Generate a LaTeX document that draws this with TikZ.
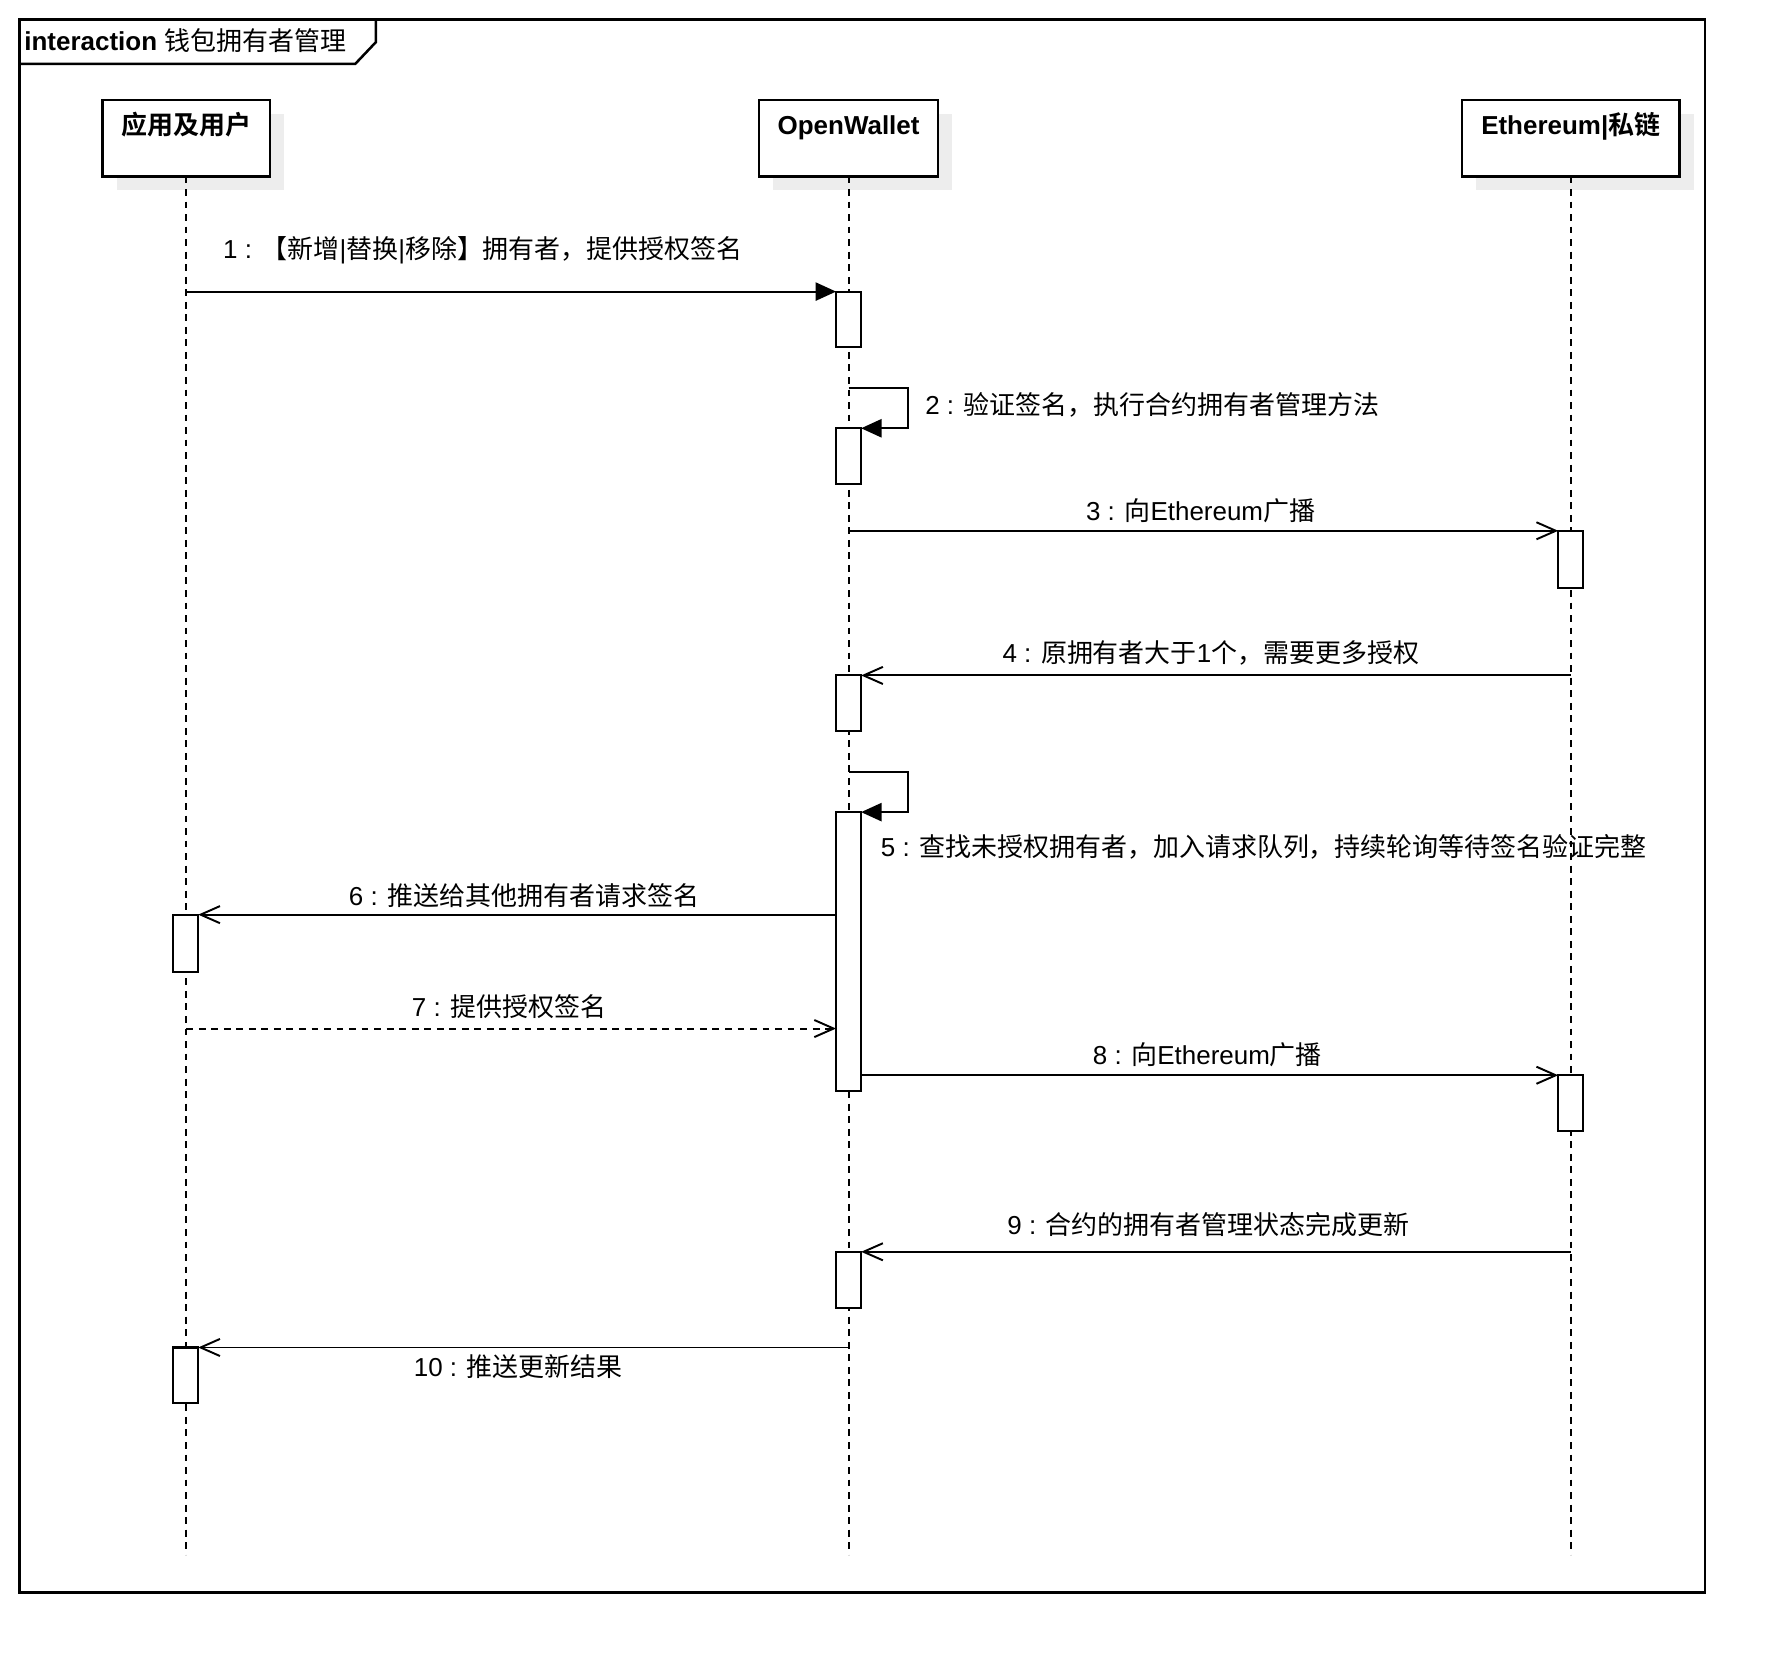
\documentclass[tikz,border=0pt]{standalone}
\usepackage{fontspec}
\setmainfont{Liberation Sans}
\newfontfamily\zhfont{Noto Sans CJK SC}[BoldFont={Noto Sans CJK SC Bold}]
\newcommand{\zh}[1]{{\zhfont #1}}
\usepackage{tikz}
\usetikzlibrary{arrows.meta,positioning,shadows}

\tikzset{
    frameline/.style={line width=1.1pt},
    partbox/.style={
        draw,
        line width=1pt,
        fill=white,
        inner sep=0pt,
        outer sep=0pt,
        minimum height=33.5pt,
        drop shadow={shadow xshift=6.2pt,shadow yshift=-6pt,fill=black!7,opacity=1}
    },
    partname/.style={
        font={\fontsize{11.4}{13}\selectfont\bfseries},
        inner sep=0pt,
        text height=8.6pt,
        text depth=0pt
    },
    actbox/.style={
        draw,
        line width=0.9pt,
        fill=white,
        inner sep=0pt,
        outer sep=0pt,
        minimum width=11pt,
        anchor=north
    },
    lifeline/.style={line width=0.8pt,dash pattern=on 3pt off 2.5pt},
    msgfill/.style={line width=0.85pt,-{Triangle[length=9pt,width=8pt]}},
    msgbarb/.style={line width=0.85pt,-{Straight Barb[length=8.5pt,width=7.5pt]}},
    msglabel/.style={
        font=\fontsize{11.4}{13}\selectfont,
        inner sep=0pt,
        text height=8.6pt,
        text depth=0pt
    }
}

\begin{document}
\begin{tikzpicture}[x=0.5pt,y=-0.5pt]
                \useasboundingbox (0,0) rectangle (1568,1470);

                \draw[frameline] (17,17) rectangle (1497,1398);
                \draw[frameline] (17,56) -- (312,56) -- (330,37) -- (330,17);
                \node[msglabel,anchor=west] (title) at (21,36) {\textbf{interaction} \zh{钱包拥有者管理}};

                \node[partbox,minimum width=73.5pt] (app) at (163.5,121.5) {};
                \node[partbox,minimum width=78.5pt] (ow) at (745,121.5) {};
                \node[partbox,minimum width=95.5pt] (eth) at (1379,121.5) {};
                \node[partname,below=6.2pt of app.north] (appname) {\zh{应用及用户}};
                \node[partname,below=6.2pt of ow.north] (owname) {OpenWallet};
                \node[partname,below=6.2pt of eth.north] (ethname) {Ethereum|\zh{私链}};

                \coordinate (bottom) at (0,1365);
                \draw[lifeline] (app.south) -- (app.south |- bottom);
                \draw[lifeline] (ow.south) -- (ow.south |- bottom);
                \draw[lifeline] (eth.south) -- (eth.south |- bottom);

                \node[actbox,minimum height=24.5pt] (w1) at (745,256) {};
                \node[actbox,minimum height=24.5pt] (w2) at (745,376) {};
                \node[actbox,minimum height=25pt] (c1) at (1379,466) {};
                \node[actbox,minimum height=24.5pt] (w3) at (745,593) {};
                \node[actbox,minimum height=122.5pt] (w4) at (745,713) {};
                \node[actbox,minimum height=25pt] (a1) at (163,803) {};
                \node[actbox,minimum height=24.5pt] (c2) at (1379,944) {};
                \node[actbox,minimum height=24.5pt] (w5) at (745,1099) {};
                \node[actbox,minimum height=24.5pt] (a2) at (163,1183) {};

                \draw[msgfill] (app.south |- w1.north) -- (w1.north west);
                \draw[msgfill] (ow.south |- 0,341) -- ++(52,0) |- (w2.north east);
                \draw[msgbarb] (ow.south |- c1.north) -- (c1.north west);
                \draw[msgbarb] (eth.south |- w3.north) -- (w3.north east);
                \draw[msgfill] (ow.south |- 0,678) -- ++(52,0) |- (w4.north east);
                \draw[msgbarb] (w4.west |- a1.north) -- (a1.north east);
                \draw[msgbarb,dash pattern=on 3pt off 2.5pt] (app.south |- 0,903) -- (w4.west |- 0,903);
                \draw[msgbarb] (w4.east |- c2.north) -- (c2.north west);
                \draw[msgbarb] (eth.south |- w5.north) -- (w5.north east);
                \draw[msgbarb] (ow.south |- a2.north) -- (a2.north east);

                \node[msglabel] (m1) at (424,218) {1 : \zh{【新增}|\zh{替换}|\zh{移除】拥有者，提供授权签名}};
                \node[msglabel,anchor=west] (m2) at (812,355) {2 : \zh{验证签名，执行合约拥有者管理方法}};
                \node[msglabel] (m3) at (1054,448) {3 : \zh{向}Ethereum\zh{广播}};
                \node[msglabel] (m4) at (1063,573) {4 : \zh{原拥有者大于}1\zh{个，需要更多授权}};
                \node[msglabel,anchor=west] (m5) at (773,743) {5 : \zh{查找未授权拥有者，加入请求队列，持续轮询等待签名验证完整}};
                \node[msglabel] (m6) at (460,786) {6 : \zh{推送给其他拥有者请求签名}};
                \node[msglabel] (m7) at (447,884) {7 : \zh{提供授权签名}};
                \node[msglabel] (m8) at (1060,926) {8 : \zh{向}Ethereum\zh{广播}};
                \node[msglabel] (m9) at (1061,1075) {9 : \zh{合约的拥有者管理状态完成更新}};
                \node[msglabel] (m10) at (455,1200) {10 : \zh{推送更新结果}};
\end{tikzpicture}
\end{document}
